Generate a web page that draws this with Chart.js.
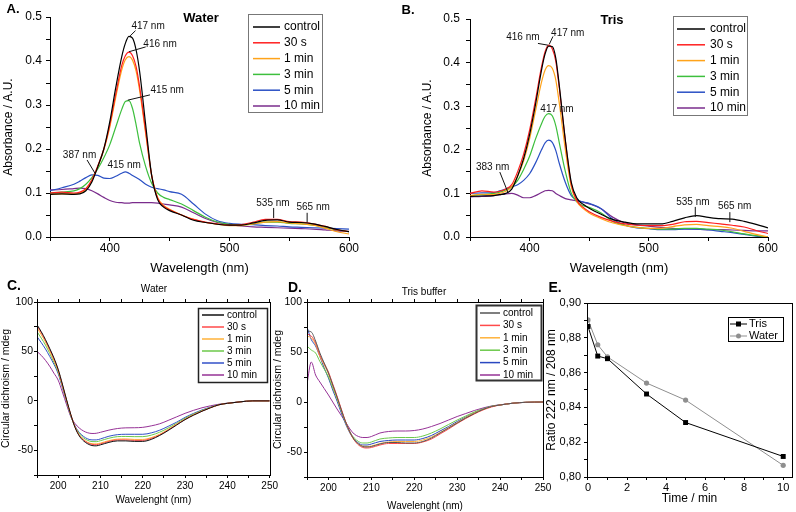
<!DOCTYPE html>
<html>
<head>
<meta charset="utf-8">
<script src="https://cdn.jsdelivr.net/npm/chart.js@4.4.0/dist/chart.umd.min.js"></script>
<style>
  body { margin: 0; background: #fff; width: 796px; height: 512px; overflow: hidden; position: relative;
         font-family: "Liberation Sans", Arial, sans-serif; }
  canvas { position: absolute; }
  .tag { position: absolute; transform: translate(-50%, -50%); white-space: nowrap; color: #000; line-height: 1; }
  .letter { font-weight: bold; font-size: 13px; }
</style>
</head>
<body>
<canvas id="chartA" width="360" height="280" style="left:0;top:0"></canvas>
<canvas id="chartB" width="396" height="280" style="left:400px;top:0"></canvas>
<canvas id="chartC" width="280" height="232" style="left:0;top:280px"></canvas>
<canvas id="chartD" width="285" height="232" style="left:270px;top:280px"></canvas>
<canvas id="chartE" width="256" height="232" style="left:540px;top:280px"></canvas>

<div class="tag letter" style="left:13px;top:8px">A.</div>
<div class="tag letter" style="left:408px;top:9px">B.</div>
<div class="tag letter" style="left:14px;top:285px;font-size:14px">C.</div>
<div class="tag letter" style="left:295px;top:287px;font-size:14px">D.</div>
<div class="tag letter" style="left:555px;top:287px;font-size:14px">E.</div>
<div class="tag" style="left:201px;top:17px;font-weight:bold;font-size:13px">Water</div>
<div class="tag" style="left:612px;top:19px;font-weight:bold;font-size:13px">Tris</div>
<div class="tag" style="left:154px;top:289px;font-size:10px">Water</div>
<div class="tag" style="left:424px;top:292px;font-size:10px">Tris buffer</div>

<script>
/* ==========================
   DATA
========================== */
const seriesLabels = ["control", "30 s", "1 min", "3 min", "5 min", "10 min"];

// UV-vis, wavelength grid (nm)
const absWl = [350,360,370,375,380,385,390,395,400,405,410,413,416,419,422,425,430,435,440,445,
               450,460,470,480,490,500,510,520,530,540,550,560,570,580,590,600];

// A. Water
const waterControl = [.097,.098,.097,.098,.105,.125,.16,.2,.262,.34,.41,.44,.456,.452,.425,.375,.255,.14,.085,.068,
                      .06,.05,.038,.033,.029,.027,.027,.032,.038,.039,.034,.033,.03,.024,.017,.012];
const water30s = [.1,.102,.1,.102,.11,.13,.162,.2,.255,.325,.39,.412,.42,.412,.387,.34,.24,.14,.088,.07,
                  .062,.05,.04,.034,.03,.027,.028,.034,.04,.04,.035,.034,.03,.024,.016,.012];
const water1min = [.097,.098,.098,.1,.108,.128,.16,.198,.25,.318,.38,.403,.41,.402,.377,.332,.235,.14,.09,.072,
                   .063,.05,.04,.033,.029,.026,.026,.03,.034,.035,.032,.03,.027,.02,.012,.007];
const water3min = [.1,.102,.105,.11,.12,.135,.155,.18,.21,.25,.29,.308,.31,.292,.255,.212,.16,.122,.1,.09,
                   .085,.075,.06,.045,.034,.029,.028,.03,.034,.034,.031,.03,.027,.022,.016,.012];
const water5min = [.105,.112,.12,.127,.135,.141,.14,.134,.133,.138,.145,.148,.145,.14,.135,.13,.12,.113,.11,.107,
                   .103,.097,.075,.052,.037,.031,.029,.028,.026,.025,.023,.022,.021,.02,.019,.018];
const water10min = [.107,.108,.11,.111,.11,.105,.098,.09,.083,.079,.078,.077,.077,.078,.078,.078,.078,.078,.077,.075,
                    .073,.068,.055,.042,.033,.028,.025,.023,.022,.021,.02,.019,.018,.016,.014,.013];

// B. Tris
const trisControl = [.093,.094,.095,.097,.1,.11,.14,.18,.235,.305,.383,.42,.438,.437,.41,.345,.222,.125,.088,.075,
                     .066,.052,.04,.034,.03,.03,.03,.036,.044,.049,.045,.042,.041,.036,.029,.021];
const tris30s = [.1,.106,.103,.105,.11,.12,.15,.19,.245,.315,.39,.425,.44,.432,.403,.34,.22,.12,.082,.068,
                 .058,.045,.036,.03,.027,.026,.026,.029,.035,.036,.033,.03,.027,.023,.015,.008];
const tris1min = [.095,.098,.097,.1,.105,.115,.14,.175,.225,.29,.355,.383,.393,.387,.36,.305,.2,.115,.08,.065,
                  .055,.042,.032,.026,.022,.02,.02,.024,.028,.029,.026,.024,.02,.013,.006,0];
const tris3min = [.095,.097,.1,.103,.108,.115,.13,.155,.185,.225,.26,.277,.283,.278,.255,.215,.15,.1,.08,.072,
                  .068,.055,.035,.027,.022,.02,.018,.018,.02,.02,.018,.016,.012,.007,.003,0];
const tris5min = [.1,.101,.102,.106,.11,.115,.12,.13,.145,.17,.2,.216,.222,.217,.198,.168,.125,.095,.085,.08,
                  .077,.065,.04,.027,.021,.019,.017,.017,.018,.018,.016,.013,.01,.006,.002,0];
const tris10min = [.092,.093,.095,.097,.099,.1,.096,.09,.09,.095,.102,.106,.107,.106,.1,.095,.088,.085,.083,.08,
                   .076,.065,.045,.032,.028,.025,.022,.02,.019,.018,.017,.017,.016,.015,.014,.014];

// CD, wavelength grid (nm)
const cdWl = [195,196,197,198,199,200,201,202,203,204,205,206,207,208,209,210,212,214,216,218,220,222,224,226,228,230,
              232,234,236,238,240,243,246,250];

// C. Water
const cdWaterControl = [77,70,62,53,43.5,32,17,1,-14,-27,-35.5,-40.5,-43.5,-45.2,-45.5,-44.5,-42,-40.5,-40.5,-41,-41,-39,-35,-30,-24.5,-19,
                        -14.5,-10.5,-7,-4,-2.5,-1,0,0];
const cdWater30s = [76,69,61,52,42.5,31,16,0.5,-14,-26.5,-35,-39.5,-42.5,-44,-44.3,-43.5,-41,-39.5,-39.5,-40,-40,-38,-34.5,-29.5,-24,-18.8,
                    -14.3,-10.4,-7,-4,-2.5,-1,0,0];
const cdWater1min = [74,67,59.5,50.5,41,30.5,15.5,0,-14.5,-26.5,-34.5,-39,-42,-43.3,-43.5,-42.7,-40.2,-38.7,-38.5,-39,-39,-37.2,-33.8,-29,-23.8,-18.5,
                     -14,-10.2,-6.9,-4,-2.5,-1,0,0];
const cdWater3min = [70,63.5,56.5,48,39,29,14.5,-0.5,-15,-26,-33,-37.5,-40,-41.2,-41.3,-40.3,-37.8,-36.2,-36,-36.2,-36.2,-34.7,-31.7,-27.5,-22.8,-17.6,
                     -13.3,-9.7,-6.6,-3.9,-2.5,-1,0,0];
const cdWater5min = [65,59,52.5,45,37,27.5,13.5,-1,-15.5,-25.5,-32,-36,-38.5,-39.5,-39.5,-38.5,-35.8,-34.2,-33.8,-33.8,-33.8,-32.4,-29.7,-25.8,-21.6,-16.7,
                     -12.7,-9.2,-6.3,-3.8,-2.5,-1,0,0];
const cdWater10min = [50,46,41,35,28,21,9,-4,-16,-23,-27.5,-30.5,-32.3,-33,-32.8,-31.8,-29.6,-28,-27.3,-27.2,-26.8,-25.3,-23.2,-19.8,-16.2,-12.6,
                      -9.6,-7,-5,-3.4,-2.3,-1,0,0];

// D. Tris buffer
const cdTrisControl = [71,70,61,49,39,29,17,5,-8,-20,-30,-37.5,-42,-44.5,-45,-44.5,-42,-40.5,-40.5,-41,-41,-39.5,-36,-31,-26,-21,
                       -16,-11.5,-7.5,-4.5,-3,-1.2,-0.3,0];
const cdTris30s = [68,66,59,47,38.5,30,18,6,-7,-19.5,-30,-38,-43,-45.5,-46,-45.5,-43,-41.5,-41.5,-41.5,-41.5,-40,-37,-32,-27,-21.5,
                   -16.5,-12,-8,-5,-3,-1.2,-0.3,0];
const cdTris1min = [66,64,57.5,45.5,37,28,16,4,-8.5,-20.5,-30.5,-38,-42,-44,-44.5,-44,-41.5,-40,-39.5,-39.5,-39.5,-38,-35,-30.5,-25.5,-20.5,
                    -15.5,-11,-7.5,-4.5,-3,-1.2,-0.3,0];
const cdTris3min = [56,52,49,40.5,33,25,14,3,-9,-20.5,-30,-36,-39.5,-41,-41,-40,-37,-36,-35.5,-35.5,-35.5,-34,-31,-27,-22.5,-18,
                    -14,-10,-7,-4.3,-3,-1.2,-0.3,0];
const cdTris5min = [75,62.5,56,45.5,34,24,12,1,-11,-22,-31,-37.5,-41,-43,-43,-42,-39.5,-38.5,-38,-38,-38,-36.5,-33.5,-29,-24.5,-19.5,
                    -15,-10.5,-7,-4.3,-3,-1.2,-0.3,0];
const cdTris10min = [18,40,27,20,13.5,7,0,-7,-13.5,-20,-27,-32,-34.5,-35.5,-35.5,-34.5,-31,-29.5,-29,-29,-28.5,-27,-24.5,-21.5,-18,-14.5,
                     -11.5,-8.5,-6,-4,-2.8,-1.2,-0.3,0];

// E. ratio 222/208
const ratioTime = [0, 0.5, 1, 3, 5, 10];
const ratioTris = [0.8865, 0.8695, 0.868, 0.8477, 0.8313, 0.8118];
const ratioWater = [0.8903, 0.876, 0.869, 0.854, 0.8442, 0.8067];

// peak labels (data coordinates)
const notesA = [
    { text: "417 nm", at: [432, 0.48], line: [417, 0.457, 421.5, 0.469] },
    { text: "416 nm", at: [442, 0.439], line: [416, 0.421, 430, 0.432] },
    { text: "415 nm", at: [448, 0.334], line: [415, 0.311, 433.6, 0.323] },
    { text: "387 nm", at: [374.7, 0.186], line: [381, 0.175, 387.6, 0.145] },
    { text: "415 nm", at: [412, 0.164] },
    { text: "535 nm", at: [536.4, 0.077], line: [537, 0.066, 537, 0.043] },
    { text: "565 nm", at: [570, 0.068], line: [565, 0.055, 565, 0.033] }
];
const notesB = [
    { text: "416 nm", at: [394.4, 0.458], line: [407, 0.444, 415.4, 0.44] },
    { text: "417 nm", at: [432, 0.467], line: [419.6, 0.46, 416.5, 0.442] },
    { text: "417 nm", at: [423, 0.293] },
    { text: "383 nm", at: [369, 0.16], line: [375, 0.149, 382, 0.101] },
    { text: "535 nm", at: [537, 0.08], line: [539, 0.069, 539, 0.046] },
    { text: "565 nm", at: [572, 0.071], line: [568, 0.057, 568, 0.034] }
];

/* ==========================
   STYLE
========================== */
const FONT = '"Liberation Sans", Arial, sans-serif';
const NARROW = '"Liberation Sans Narrow", "Liberation Sans", Arial, sans-serif';
const absColors = ["#000000", "#ff1f1f", "#ffa31a", "#3dbf3d", "#2a50c4", "#7a2c8c"];
const cdColors = ["#111111", "#ff4a4a", "#ffb23a", "#6cc94a", "#3250c8", "#963296"];
const cdTrisColors = ["#555555", "#ff4a4a", "#ffb23a", "#6cc94a", "#2a48c0", "#963296"];

Chart.defaults.font.family = FONT;
Chart.defaults.color = "#000";

/* ==========================
   PLUGINS
========================== */
const frameBox = {
    id: "frameBox",
    afterDatasetsDraw(chart, args, opts) {
        const a = chart.chartArea, ctx = chart.ctx;
        ctx.save();
        ctx.strokeStyle = opts.color || "#000";
        ctx.lineWidth = opts.width || 1;
        ctx.strokeRect(Math.round(a.left) + 0.5, Math.round(a.top) + 0.5,
                       Math.round(a.right - a.left), Math.round(a.bottom - a.top));
        ctx.restore();
    }
};

const boxLegend = {
    id: "boxLegend",
    afterDraw(chart, args, o) {
        if (!o.box) return;
        const ctx = chart.ctx, ox = o.ox, oy = o.oy;
        const [bx, by, bw, bh] = o.box;
        ctx.save();
        ctx.fillStyle = "#fff";
        ctx.fillRect(bx - ox, by - oy, bw, bh);
        ctx.strokeStyle = o.border;
        ctx.lineWidth = o.borderWidth;
        ctx.strokeRect(bx - ox + 0.5, by - oy + 0.5, bw, bh);
        ctx.font = o.font;
        ctx.textBaseline = "middle";
        chart.data.datasets.forEach((ds, i) => {
            const y = o.rowY - oy + i * o.rowH;
            ctx.strokeStyle = ds.borderColor;
            ctx.lineWidth = o.lineWidth;
            ctx.beginPath();
            ctx.moveTo(o.lineX[0] - ox, y);
            ctx.lineTo(o.lineX[1] - ox, y);
            ctx.stroke();
            if (ds.pointRadius) {
                const cx = (o.lineX[0] + o.lineX[1]) / 2 - ox;
                ctx.fillStyle = ds.borderColor;
                if (ds.pointStyle === "rect") ctx.fillRect(cx - 2.5, y - 2.5, 5, 5);
                else { ctx.beginPath(); ctx.arc(cx, y, 2.5, 0, Math.PI * 2); ctx.fill(); }
            }
            ctx.fillStyle = "#000";
            ctx.fillText(ds.label, o.textX - ox, y);
        });
        ctx.restore();
    }
};

const peakNotes = {
    id: "peakNotes",
    afterDatasetsDraw(chart, args, o) {
        if (!o.items) return;
        const ctx = chart.ctx, sx = chart.scales.x, sy = chart.scales.y;
        ctx.save();
        ctx.font = o.font;
        ctx.fillStyle = "#111";
        ctx.strokeStyle = "#111";
        ctx.lineWidth = 1;
        ctx.textAlign = "center";
        ctx.textBaseline = "middle";
        o.items.forEach(n => {
            if (n.line) {
                ctx.beginPath();
                ctx.moveTo(sx.getPixelForValue(n.line[0]), sy.getPixelForValue(n.line[1]));
                ctx.lineTo(sx.getPixelForValue(n.line[2]), sy.getPixelForValue(n.line[3]));
                ctx.stroke();
            }
            ctx.fillText(n.text, sx.getPixelForValue(n.at[0]), sy.getPixelForValue(n.at[1]));
        });
        ctx.restore();
    }
};

/* ==========================
   HELPERS
========================== */
function points(xs, ys) {
    return xs.map((x, i) => ({ x: x, y: ys[i] }));
}

function spectra(xs, list, colors, width) {
    return list.map((ys, i) => ({
        label: seriesLabels[i],
        data: points(xs, ys),
        borderColor: colors[i],
        borderWidth: width,
        pointRadius: 0,
        cubicInterpolationMode: "monotone",
        fill: false
    }));
}

function axis(o) {
    const s = {
        type: "linear",
        position: o.pos,
        min: o.min,
        max: o.max,
        border: { display: true, color: "#000", width: 1 },
        grid: { display: true, drawOnChartArea: false, drawTicks: true, tickLength: o.tick, color: "#000" },
        ticks: {
            display: o.fmt !== undefined,
            stepSize: o.step,
            autoSkip: false,
            maxRotation: 0,
            padding: o.pad || 0,
            color: "#000",
            font: { family: o.family || FONT, size: o.font || 12 },
            callback: o.fmt
        },
        title: o.title
            ? { display: true, text: o.title, color: "#000",
                font: { family: o.titleFamily || FONT, size: o.titleFont },
                padding: o.titlePad }
            : { display: false },
        afterFit: sc => {
            if (sc.isHorizontal()) sc.height = o.size; else sc.width = o.size;
        }
    };
    // whole-number ticks between the axis limits
    if (o.whole) s.afterBuildTicks = sc => {
        const out = [];
        for (let v = Math.ceil(sc.min); v <= Math.floor(sc.max); v++) out.push({ value: v });
        sc.ticks = out;
    };
    return s;
}

function panel(id, origin, cfg) {
    return new Chart(document.getElementById(id), {
        type: "line",
        data: { datasets: cfg.datasets },
        options: {
            responsive: false,
            animation: false,
            events: [],
            layout: { padding: cfg.padding },
            plugins: {
                legend: { display: false },
                tooltip: { enabled: false },
                frameBox: cfg.frame ? { color: "#000", width: 1 } : false,
                boxLegend: Object.assign({ ox: origin[0], oy: origin[1] }, cfg.legend),
                peakNotes: { items: cfg.notes, font: "10px " + FONT }
            },
            scales: cfg.scales
        },
        plugins: [frameBox, boxLegend, peakNotes]
    });
}

const absX = v => (v % 100 === 0 ? String(v) : "");
const absY = v => (Math.round(v * 100) % 10 === 0 ? v.toFixed(1) : "");
const cdX = v => (v % 10 === 0 ? String(v) : "");
const cdY = v => (v % 50 === 0 ? String(v) : "");

/* ==========================
   A. UV-vis Water
========================== */
panel("chartA", [0, 0], {
    datasets: spectra(absWl, [waterControl, water30s, water1min, water3min, water5min, water10min], absColors, 1.2),
    padding: { left: 0, top: 17, right: 11, bottom: 0 },
    notes: notesA,
    legend: { box: [248, 14, 74, 98], border: "#777", borderWidth: 1, lineX: [253, 280], textX: 284,
              rowY: 27, rowH: 15.8, lineWidth: 1.5, font: "12px " + FONT },
    scales: {
        x: axis({ pos: "bottom", min: 350, max: 600, step: 50, size: 43, tick: 4, pad: 0, font: 12, fmt: absX,
                  title: "Wavelength (nm)", titleFont: 13, titlePad: { top: 0, bottom: 4 } }),
        y: axis({ pos: "left", min: 0, max: 0.5, step: 0.05, size: 50, tick: 4, pad: 4, font: 12, fmt: absY,
                  title: "Absorbance / A.U.", titleFont: 12, titlePad: { top: 1, bottom: 0 } })
    }
});

/* ==========================
   B. UV-vis Tris
========================== */
panel("chartB", [400, 0], {
    datasets: spectra(absWl, [trisControl, tris30s, tris1min, tris3min, tris5min, tris10min], absColors, 1.2),
    padding: { left: 0, top: 19, right: 28, bottom: 0 },
    notes: notesB,
    legend: { box: [673, 16, 74, 99], border: "#777", borderWidth: 1, lineX: [677, 705], textX: 710,
              rowY: 29, rowH: 15.8, lineWidth: 1.5, font: "12px " + FONT },
    scales: {
        x: axis({ pos: "bottom", min: 350, max: 600, step: 50, size: 43, tick: 4, pad: 0, font: 12, fmt: absX,
                  title: "Wavelength (nm)", titleFont: 13, titlePad: { top: 0, bottom: 4 } }),
        y: axis({ pos: "left", min: 0, max: 0.5, step: 0.05, size: 70, tick: 4, pad: 6, font: 12, fmt: absY,
                  title: "Absorbance / A.U.", titleFont: 12, titlePad: { top: 20, bottom: 0 } })
    }
});

/* ==========================
   C. CD Water
========================== */
panel("chartC", [0, 280], {
    datasets: spectra(cdWl, [cdWaterControl, cdWater30s, cdWater1min, cdWater3min, cdWater5min, cdWater10min], cdColors, 1),
    padding: { left: 0, top: 18, right: 10, bottom: 0 },
    frame: true,
    legend: { box: [198, 308, 69, 74], border: "#222", borderWidth: 1.5, lineX: [202, 224], textX: 227,
              rowY: 315, rowH: 12, lineWidth: 1.5, font: "10px " + FONT },
    scales: {
        x: axis({ pos: "bottom", min: 195, max: 250, step: 5, size: 37, tick: 3, pad: 2, font: 10, fmt: cdX,
                  title: "Wavelenght (nm)", titleFont: 10, titlePad: { top: 0, bottom: 6 } }),
        x2: axis({ pos: "top", min: 195, max: 250, step: 5, size: 4, tick: 3 }),
        y: axis({ pos: "left", min: -75, max: 100, step: 25, size: 37, tick: 3, pad: 1, font: 10.5, fmt: cdY,
                  title: "Circular dichroism / mdeg", titleFont: 10.5, titlePad: { top: 0, bottom: 0 } })
    }
});

/* ==========================
   D. CD Tris buffer
========================== */
panel("chartD", [270, 280], {
    datasets: spectra(cdWl, [cdTrisControl, cdTris30s, cdTris1min, cdTris3min, cdTris5min, cdTris10min], cdTrisColors, 1),
    padding: { left: 0, top: 18, right: 12, bottom: 0 },
    frame: true,
    legend: { box: [476, 305, 65, 75], border: "#333", borderWidth: 2, lineX: [480, 500], textX: 503,
              rowY: 313, rowH: 12.4, lineWidth: 1.5, font: "10px " + FONT },
    scales: {
        x: axis({ pos: "bottom", min: 195, max: 250, step: 5, size: 35, tick: 3, pad: 2, font: 10, fmt: cdX,
                  title: "Wavelenght (nm)", titleFont: 10, titlePad: { top: 0, bottom: 0 } }),
        x2: axis({ pos: "top", min: 195, max: 250, step: 5, size: 4, tick: 3 }),
        y: axis({ pos: "left", min: -75, max: 100, step: 25, size: 37, tick: 3, pad: 2, font: 10.5, fmt: cdY,
                  title: "Circular dichroism / mdeg", titleFont: 10.5, titlePad: { top: 2, bottom: 0 } })
    }
});

/* ==========================
   E. Ratio 222/208
========================== */
panel("chartE", [540, 280], {
    datasets: [
        { label: "Tris", data: points(ratioTime, ratioTris), borderColor: "#000", backgroundColor: "#000",
          borderWidth: 1, pointStyle: "rect", pointRadius: 3.5, pointBorderWidth: 0, tension: 0 },
        { label: "Water", data: points(ratioTime, ratioWater), borderColor: "#8f8f8f", backgroundColor: "#8f8f8f",
          borderWidth: 1, pointStyle: "circle", pointRadius: 2.6, pointBorderWidth: 0, tension: 0 }
    ],
    padding: { left: 0, top: 23, right: 3, bottom: 0 },
    frame: true,
    legend: { box: [728, 317, 55, 24], border: "#000", borderWidth: 1, lineX: [730, 747], textX: 749,
              rowY: 324, rowH: 12, lineWidth: 1, font: "11px " + NARROW },
    scales: {
        x: axis({ pos: "bottom", min: -0.05, max: 10.45, step: 1, size: 35, tick: 3, pad: 1, font: 11, whole: true,
                  fmt: v => (Math.round(v) % 2 === 0 ? String(Math.round(v)) : ""),
                  title: "Time / min", titleFont: 12, titleFamily: NARROW, titlePad: { top: 0, bottom: 6 } }),
        y: axis({ pos: "left", min: 0.8, max: 0.9, step: 0.01, size: 47, tick: 3, pad: 3, font: 11,
                  fmt: v => (Math.round(v * 100) % 2 === 0 ? v.toFixed(2).replace(".", ",") : ""),
                  title: "Ratio 222 nm / 208 nm", titleFont: 12, titleFamily: NARROW, titlePad: { top: 4, bottom: 0 } })
    }
});
</script>
</body>
</html>
